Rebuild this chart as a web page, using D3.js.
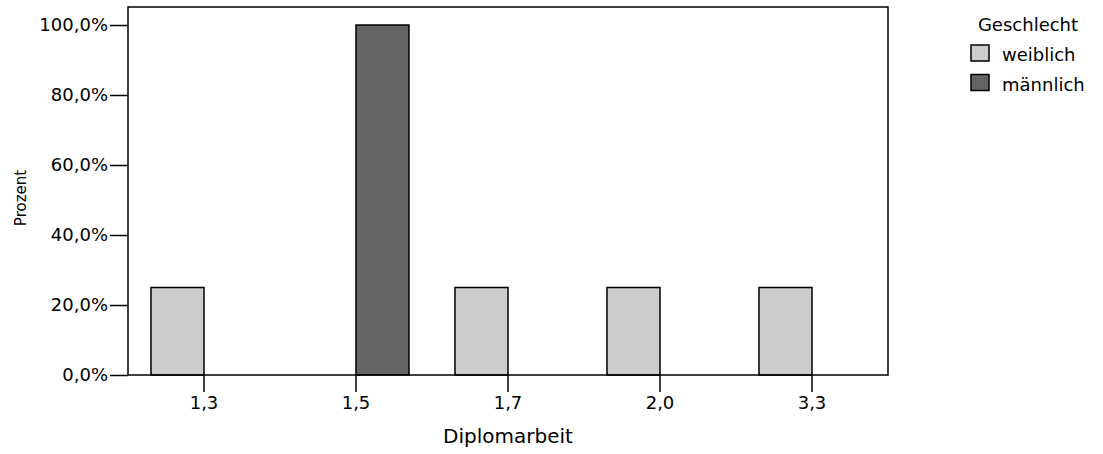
<!DOCTYPE html>
<html>
<head>
<meta charset="utf-8">
<script src="https://cdn.jsdelivr.net/npm/d3@7"></script>
<style>
html,body{margin:0;padding:0;background:#fff;}
text{font-family:"DejaVu Sans",sans-serif;fill:#000;}
</style>
</head>
<body>
<svg id="chart" width="1103" height="454"></svg>
<script>
const categories = ["1,3", "1,5", "1,7", "2,0", "3,3"];
const seriesNames = ["weiblich", "männlich"];
const weiblich = [25, 0, 25, 25, 25];
const maennlich = [0, 100, 0, 0, 0];
const yTicks = [0, 20, 40, 60, 80, 100];
const colors = ["#cccccc", "#646464"];
const xTitle = "Diplomarbeit";
const yTitle = "Prozent";
const legendTitle = "Geschlecht";

const values = [weiblich, maennlich];
const svg = d3.select("#chart");
const L = 128, R = 888, B = 375, T = 7;
const yMax = 100 * (B - T) / (B - 25);

const x = d3.scaleBand().domain(categories).range([L, R]).paddingInner(0.3026).paddingOuter(0.1513);
const xs = d3.scaleBand().domain(seriesNames).range([0, x.bandwidth()]).padding(0);
const y = d3.scaleLinear().domain([0, yMax]).range([B, T]);

// bars
const g = svg.append("g");
categories.forEach((c, i) => {
  seriesNames.forEach((s, j) => {
    const v = values[j][i];
    g.append("rect")
      .attr("x", x(c) + xs(s))
      .attr("y", y(v))
      .attr("width", xs.bandwidth())
      .attr("height", B - y(v))
      .attr("fill", colors[j])
      .attr("stroke", "#000")
      .attr("stroke-width", 1.5);
  });
});

// frame
svg.append("rect").attr("x", L).attr("y", T).attr("width", R - L).attr("height", B - T)
  .attr("fill", "none").attr("stroke", "#000").attr("stroke-width", 1.5);

// y axis
const yAxis = d3.axisLeft(y).tickValues(yTicks).tickSize(18).tickPadding(2)
  .tickFormat(d => d3.format(".1f")(d).replace(".", ",") + "%");
const ya = svg.append("g").attr("transform", `translate(${L},0)`).call(yAxis);
ya.select(".domain").remove();
ya.selectAll(".tick line").attr("stroke", "#000").attr("stroke-width", 1.5);
ya.selectAll(".tick text").attr("font-size", 18).attr("font-family", "DejaVu Sans").attr("fill", "#000");

// x axis
const xAxis = d3.axisBottom(x).tickSize(17).tickPadding(4);
const xa = svg.append("g").attr("transform", `translate(0,${B})`).call(xAxis);
xa.select(".domain").remove();
xa.selectAll(".tick line").attr("stroke", "#000").attr("stroke-width", 1.5).attr("transform", `translate(${x.bandwidth()/2 - x.bandwidth()/2},0)`);
xa.selectAll(".tick text").attr("font-size", 18).attr("font-family", "DejaVu Sans").attr("fill", "#000");

// titles
svg.append("text").attr("x", (L + R) / 2).attr("y", 443).attr("text-anchor", "middle")
  .attr("font-size", 20).text(xTitle);
svg.append("text").attr("transform", "translate(26,198) rotate(-90)").attr("text-anchor", "middle")
  .attr("font-size", 15).text(yTitle);

// legend
svg.append("text").attr("x", 1028).attr("y", 31).attr("text-anchor", "middle").attr("font-size", 18).text(legendTitle);
seriesNames.forEach((s, j) => {
  const yy = 45 + j * 29.5;
  svg.append("rect").attr("x", 971).attr("y", yy).attr("width", 18).attr("height", 16)
    .attr("fill", colors[j]).attr("stroke", "#000").attr("stroke-width", 1.5);
  svg.append("text").attr("x", 1002).attr("y", yy + 16).attr("font-size", 18).text(s);
});
</script>
</body>
</html>
